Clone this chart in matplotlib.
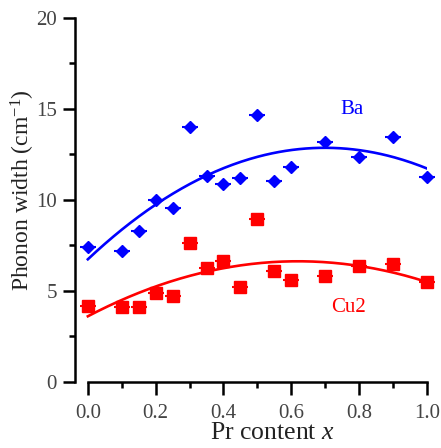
import numpy as np
import matplotlib.pyplot as plt
from matplotlib.ticker import MultipleLocator

plt.rcParams['font.family'] = 'Liberation Serif'
plt.rcParams['mathtext.fontset'] = 'custom'
plt.rcParams['mathtext.rm'] = 'Liberation Serif'
plt.rcParams['mathtext.it'] = 'Liberation Serif:italic'

# Pr content and phonon widths for the two modes
x_ba = [0.0, 0.1, 0.15, 0.2, 0.25, 0.3, 0.35, 0.4, 0.45, 0.5, 0.55, 0.6, 0.7, 0.8, 0.9, 1.0]
w_ba = [7.43, 7.21, 8.31, 10.0, 9.54, 13.99, 11.34, 10.88, 11.23, 14.65, 11.04, 11.83, 13.2, 12.34, 13.48, 11.24]
x_cu = [0.0, 0.1, 0.15, 0.2, 0.25, 0.3, 0.35, 0.4, 0.45, 0.5, 0.55, 0.6, 0.7, 0.8, 0.9, 1.0]
w_cu = [4.16, 4.10, 4.14, 4.89, 4.71, 7.62, 6.25, 6.65, 5.24, 8.96, 6.10, 5.60, 5.82, 6.37, 6.48, 5.48]

blue = '#0000ff'
red = '#ff0000'

fig = plt.figure(figsize=(4.41, 4.48), dpi=100)
ax = fig.add_axes([0.170, 0.1473, 0.798, 0.8127])

# quadratic fits
xx = np.linspace(0, 1, 200)
ax.plot(xx, np.polyval(np.polyfit(x_ba, w_ba, 2), xx), color=blue, lw=1.9, zorder=2)
ax.plot(xx, np.polyval(np.polyfit(x_cu, w_cu, 2), xx), color=red, lw=1.9, zorder=2)

# points with small horizontal bars
ax.plot(x_ba, w_ba, ls='none', marker='_', ms=11, mew=1.5, color=blue, clip_on=False, zorder=3)
ax.plot(x_ba, w_ba, ls='none', marker='D', ms=6.2, color=blue, mec=blue, clip_on=False, zorder=3)
ax.plot(x_cu, w_cu, ls='none', marker='_', ms=11.5, mew=1.5, color=red, clip_on=False, zorder=3)
ax.plot(x_cu, w_cu, ls='none', marker='s', ms=8.4, color=red, mec=red, clip_on=False, zorder=3)

ax.text(0.78, 14.95, 'Ba', color=blue, fontsize=15, ha='center', va='center')
ax.text(0.77, 4.07, 'Cu2', color=red, fontsize=15, ha='center', va='center')

ax.set_xlim(-0.038, 1.0)
ax.set_ylim(0, 20)
ax.xaxis.set_major_locator(MultipleLocator(0.2))
ax.xaxis.set_minor_locator(MultipleLocator(0.1))
ax.yaxis.set_major_locator(MultipleLocator(5))
ax.yaxis.set_minor_locator(MultipleLocator(2.5))
ax.xaxis.set_major_formatter(lambda v, p: f'{v:.1f}')

for s in ['top', 'right']:
    ax.spines[s].set_visible(False)
ax.spines['left'].set_linewidth(1.8)
ax.spines['bottom'].set_linewidth(1.8)
ax.spines['bottom'].set_bounds(0, 1)

ax.tick_params(which='major', length=9, width=1.8, labelsize=15, labelcolor='#444444', pad=4)
ax.tick_params(axis='x', which='major', pad=7)
ax.tick_params(which='minor', length=4.5, width=1.8)

ax.set_ylabel('Phonon width (cm$^{-1}$)', fontsize=17, color='#222222')
ax.set_xlabel('Pr content $x$', fontsize=18.5, color='#222222')
ax.yaxis.set_label_coords(-0.107, 0.527)
ax.xaxis.set_label_coords(0.56, -0.11)

fig.savefig('out.png')
